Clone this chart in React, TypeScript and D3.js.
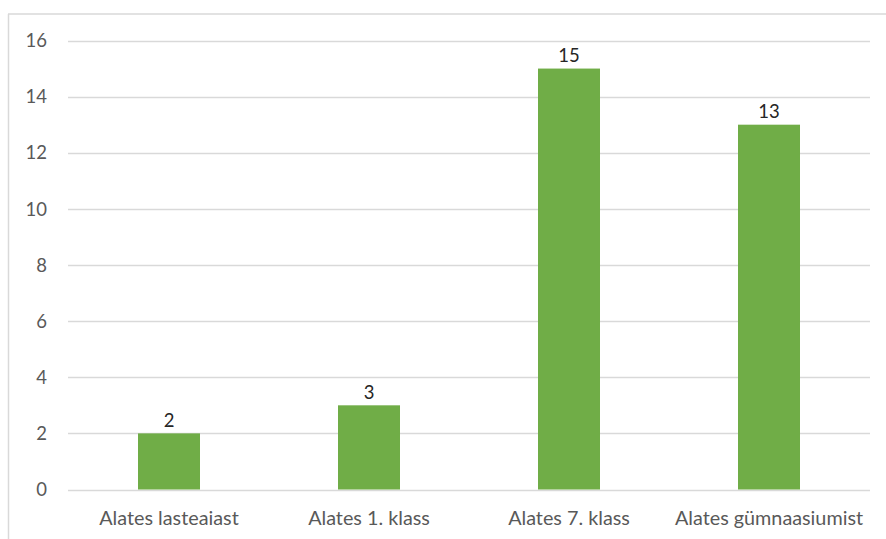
import React from "react";
import * as d3 from "d3";

const categories = ["Alates lasteaiast", "Alates 1. klass", "Alates 7. klass", "Alates gümnaasiumist"];
const values = [2, 3, 15, 13];
const yTicks = [0, 2, 4, 6, 8, 10, 12, 14, 16];

const W = 886;
const H = 539;
const FONT = "Lato, 'Open Sans', sans-serif";

export default function App() {
  const x = d3
    .scaleBand<string>()
    .domain(categories)
    .range([69, 869])
    .paddingInner(0.69)
    .paddingOuter(0.345);
  const y = d3.scaleLinear().domain([0, 16]).range([489.5, 40.5]);

  return (
    <svg
      width={W}
      height={H}
      style={{ position: "absolute", left: 0, top: 0, background: "#fff" }}
      fontFamily={FONT}
    >
      <rect x={0} y={0} width={W} height={H} fill="#fff" />
      {/* chart border */}
      <line x1={8.5} x2={8.5} y1={14} y2={H} stroke="#d9d9d9" strokeWidth={1.5} />
      <line x1={8} x2={W} y1={14} y2={14} stroke="#d9d9d9" strokeWidth={1.5} />
      {/* gridlines */}
      {yTicks.map((t) => (
        <line
          key={"g" + t}
          x1={68}
          x2={870}
          y1={Math.round(y(t)) + 0.5}
          y2={Math.round(y(t)) + 0.5}
          stroke="#d9d9d9"
          strokeWidth={1.3}
        />
      ))}
      {/* y tick labels */}
      {yTicks.map((t) => (
        <text
          key={"t" + t}
          x={47}
          y={y(t)}
          dy="0.36em"
          textAnchor="end"
          fontSize={18.5}
          fill="#595959"
        >
          {t}
        </text>
      ))}
      {/* bars */}
      {categories.map((c, i) => (
        <rect
          key={"b" + c}
          x={x(c)!}
          y={y(values[i])}
          width={x.bandwidth()}
          height={y(0) - y(values[i])}
          fill="#70AD47"
        />
      ))}
      {/* data labels */}
      {categories.map((c, i) => (
        <text
          key={"v" + c}
          x={x(c)! + x.bandwidth() / 2}
          y={y(values[i]) - 6.5}
          textAnchor="middle"
          fontSize={18.5}
          fill="#262626"
        >
          {values[i]}
        </text>
      ))}
      {/* x labels */}
      {categories.map((c) => (
        <text
          key={"x" + c}
          x={x(c)! + x.bandwidth() / 2}
          y={525}
          textAnchor="middle"
          fontSize={19.8}
          fill="#595959"
        >
          {c}
        </text>
      ))}
    </svg>
  );
}
